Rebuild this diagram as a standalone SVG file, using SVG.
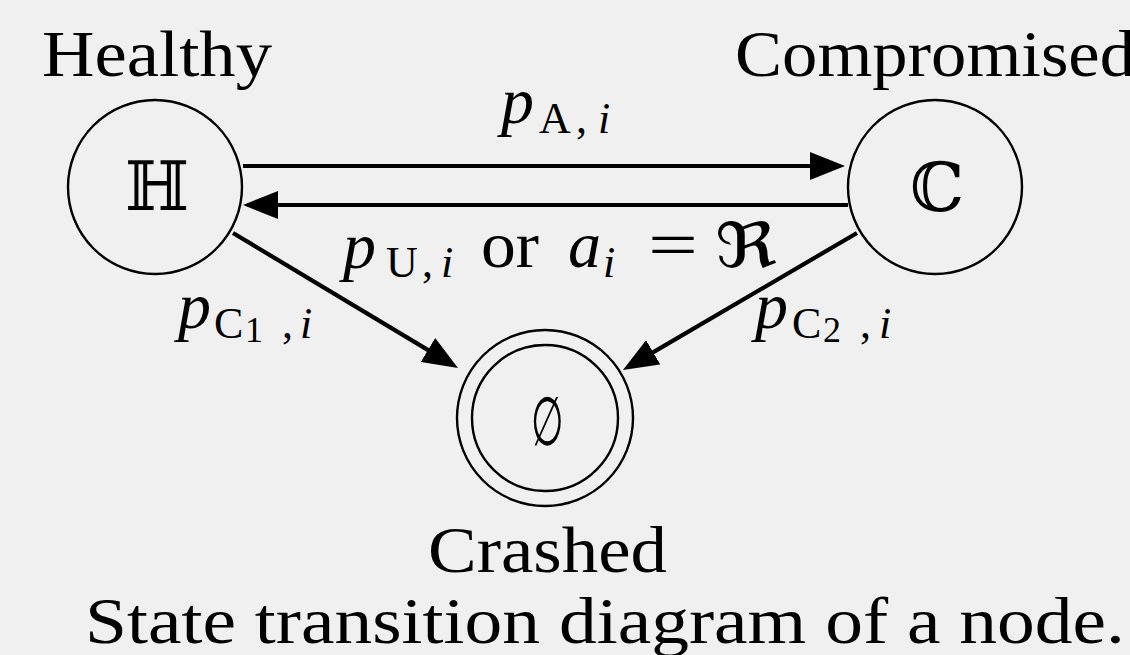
<svg xmlns="http://www.w3.org/2000/svg" width="1130" height="655" viewBox="0 0 1130 655">
<style>
.bg{fill:#f0f0f0}
.st{fill:none;stroke:#000;stroke-width:2.4}
.cn{fill:none;stroke:#000;stroke-width:4.2}
.lbl{font-family:"Liberation Serif","DejaVu Serif",serif;font-size:66px;fill:#000}
.sym{font-family:"DejaVu Serif","Liberation Serif",serif;font-size:68px;fill:#000}
.m{font-family:"Liberation Serif","DejaVu Serif",serif;font-size:66px;fill:#000}
.it{font-style:italic}
.sub{font-size:44px}
.sub2{font-size:36px}
</style>
<defs>
<marker id="ah" markerUnits="userSpaceOnUse" viewBox="0 0 35 28" refX="25" refY="14" markerWidth="35" markerHeight="28" orient="auto">
<path d="M0,0 L35,14 L0,28 z" fill="#000"/>
</marker>
</defs>
<rect class="bg" x="0" y="0" width="1130" height="655"/>
<g id="connectors">
<line class="cn" x1="243" y1="166" x2="835" y2="166" marker-end="url(#ah)"/>
<line class="cn" x1="848" y1="205" x2="253" y2="205" marker-end="url(#ah)"/>
<line class="cn" x1="233" y1="233" x2="449.4" y2="362.9" marker-end="url(#ah)"/>
<line class="cn" x1="857" y1="233" x2="631.6" y2="364.9" marker-end="url(#ah)"/>
<g id="label-a">
<text class="m it" x="501" y="123">p</text>
<text class="m sub" x="539" y="133">A</text>
<text class="m sub" x="576" y="133">,</text>
<text class="m sub it" x="598" y="133">i</text>
</g>
<g id="label-u">
<text class="m it" x="343" y="268">p</text>
<text class="m sub" x="386" y="277">U</text>
<text class="m sub" x="422" y="277">,</text>
<text class="m sub it" x="441" y="277">i</text>
<text class="m" x="481" y="267" textLength="58" lengthAdjust="spacingAndGlyphs">or</text>
<text class="m it" x="568" y="267">a</text>
<text class="m sub it" x="603" y="277">i</text>
<text class="m" x="648" y="267" textLength="50" lengthAdjust="spacingAndGlyphs">=</text>
<text x="715" y="267" font-family="DejaVu Sans, sans-serif" font-size="62" textLength="62" lengthAdjust="spacingAndGlyphs">ℜ</text>
</g>
<g id="label-c1">
<text class="m it" x="178" y="328">p</text>
<text class="m sub" x="214" y="338">C</text>
<text class="m sub2" x="245" y="342">1</text>
<text class="m sub" x="282" y="338">,</text>
<text class="m sub it" x="300" y="338">i</text>
</g>
<g id="label-c2">
<text class="m it" x="755" y="328">p</text>
<text class="m sub" x="792" y="338">C</text>
<text class="m sub2" x="823" y="342">2</text>
<text class="m sub" x="860" y="338">,</text>
<text class="m sub it" x="879" y="338">i</text>
</g>
</g>
<g id="healthy">
<circle class="st" cx="155" cy="187" r="87"/>
<text class="sym" x="157" y="210" text-anchor="middle">ℍ</text>
<text class="lbl" x="42" y="76" textLength="230" lengthAdjust="spacingAndGlyphs">Healthy</text>
</g>
<g id="compromised">
<circle class="st" cx="935" cy="187" r="87"/>
<text class="sym" x="937" y="211" text-anchor="middle">ℂ</text>
<text class="lbl" x="735" y="76" textLength="400" lengthAdjust="spacingAndGlyphs">Compromised</text>
</g>
<g id="crashed">
<circle class="st" cx="545" cy="418" r="88"/>
<circle class="st" cx="545" cy="418" r="73"/>
<text class="sym" x="0" y="0" text-anchor="middle" font-size="80" transform="translate(547,445) scale(0.55,1)">∅</text>
<text class="lbl" x="428" y="572" textLength="239" lengthAdjust="spacingAndGlyphs">Crashed</text>
</g>
<text class="lbl" x="85" y="643" textLength="1040" lengthAdjust="spacingAndGlyphs">State transition diagram of a node.</text>
</svg>
